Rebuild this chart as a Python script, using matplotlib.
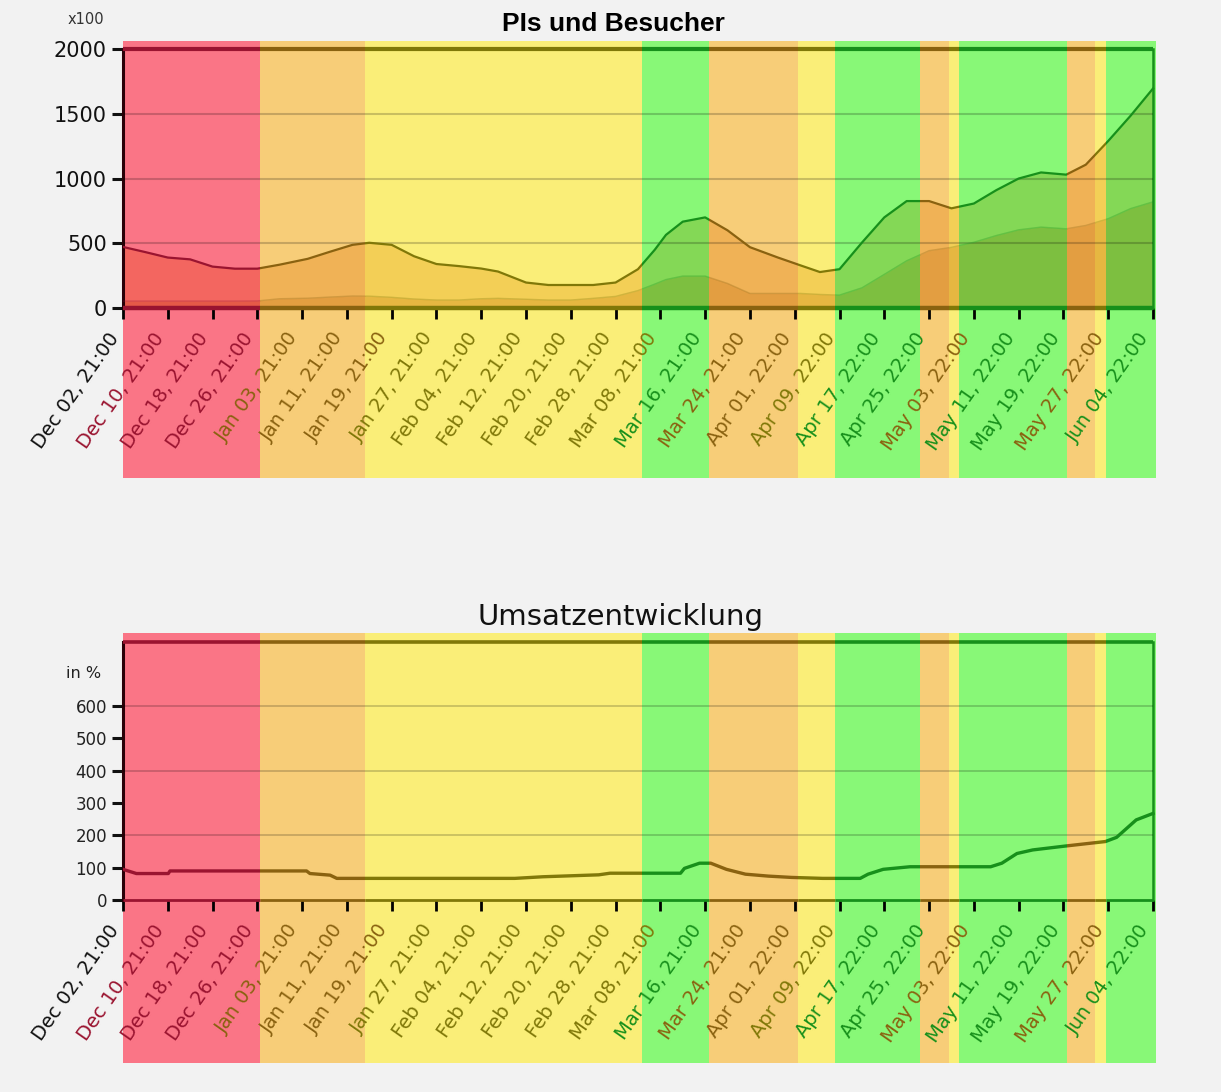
import matplotlib.pyplot as plt
import matplotlib.colors as mcolors
import numpy as np
from matplotlib.patches import Rectangle
from matplotlib.transforms import blended_transform_factory

plt.rcParams['font.family'] = ['DejaVu Sans']

# x axis: days since Dec 02, 21:00 -- one label every 8 days
tick_days = list(range(0, 185, 8))
tick_labels = ["Dec 02, 21:00", "Dec 10, 21:00", "Dec 18, 21:00", "Dec 26, 21:00",
               "Jan 03, 21:00", "Jan 11, 21:00", "Jan 19, 21:00", "Jan 27, 21:00",
               "Feb 04, 21:00", "Feb 12, 21:00", "Feb 20, 21:00", "Feb 28, 21:00",
               "Mar 08, 21:00", "Mar 16, 21:00", "Mar 24, 21:00", "Apr 01, 22:00",
               "Apr 09, 22:00", "Apr 17, 22:00", "Apr 25, 22:00", "May 03, 22:00",
               "May 11, 22:00", "May 19, 22:00", "May 27, 22:00", "Jun 04, 22:00"]

# rating phases along the time axis (day boundaries)
band_edges = [0, 24.5, 43.2, 92.7, 104.75, 120.5, 127.2, 142.4, 147.5, 149.4,
              168.6, 173.7, 175.6, 184.5]
band_kinds = ["red", "orange", "yellow", "green", "orange", "yellow", "green",
              "orange", "yellow", "green", "orange", "yellow", "green"]

# PIs und Besucher (x100)
days = [0, 4, 8, 12, 16, 20, 24, 28, 33, 37, 41, 44, 48, 52, 56, 60, 64, 67, 72,
        76, 80, 84, 88, 92, 95, 97, 100, 104, 108, 112, 117, 121, 124.5, 128, 132,
        136, 140, 144, 148, 152, 156, 160, 164, 168.5, 172, 176, 180, 184]
pis = [472, 432, 390, 376, 320, 304, 304, 335, 380, 435, 488, 504, 488, 400, 340,
       324, 305, 282, 197, 178, 178, 178, 197, 300, 450, 565, 667, 700, 600, 470,
       390, 330, 278, 300, 505, 700, 826, 826, 770, 807, 910, 1000, 1047, 1030,
       1107, 1290, 1485, 1695]
besucher = [54, 54, 54, 54, 54, 54, 55, 72, 76, 85, 93, 92, 83, 70, 62, 62, 72,
            75, 68, 62, 62, 75, 90, 135, 185, 220, 247, 247, 190, 113, 113, 113,
            105, 100, 156, 260, 365, 443, 469, 508, 560, 604, 625, 612, 638, 690,
            768, 820]

# Umsatzentwicklung in %
umsatz_days = [0, 2.4, 8.1, 8.4, 20, 32.8, 33.4, 37, 38.2, 45, 56, 65, 70, 75, 80,
               85, 87, 99.6, 100.3, 103, 105, 107.8, 111.2, 115.3, 119.4, 125,
               131.7, 133.1, 135.8, 140.6, 148, 155, 157, 159.7, 162.5, 168.3,
               175.5, 177.5, 181, 184]
umsatz = [95, 82, 82, 90, 90, 90, 82, 77, 67, 67, 67, 67, 67, 72, 75, 78, 83, 83,
          98, 114, 114, 95, 80, 74, 70, 67, 67, 80, 95, 103, 103, 103, 114, 144,
          155, 167, 181, 194, 248, 268]

# band colour, ink colour used for lines and text over the band
palette = {
    "red": ("#fa7586", "#9a1430"),
    "orange": ("#f7cd78", "#8a6210"),
    "yellow": ("#faee78", "#807808"),
    "green": ("#88f877", "#17901b"),
}
PI_TINT = np.array([0.97, 0.87, 0.72])
BES_TINT = np.array([0.92, 0.77, 0.54])
XMAX = 184


def tint(color, factor):
    return tuple(np.array(mcolors.to_rgb(color)) * factor)


def band_at(day):
    i = np.searchsorted(band_edges, day, side='right') - 1
    if i < 0 or i >= len(band_kinds):
        return None
    return band_kinds[i]


def setup(ax, ymax, below, above, top_lw, bottom_lw):
    ax.set_facecolor('none')
    ax.set_xlim(0, XMAX)
    ax.set_ylim(0, ymax)
    trans = blended_transform_factory(ax.transData, ax.transAxes)
    for x0, x1, kind in zip(band_edges[:-1], band_edges[1:], band_kinds):
        fill, ink = palette[kind]
        ax.add_patch(Rectangle((x0, -below), x1 - x0, 1 + below + above,
                               transform=trans, facecolor=fill, edgecolor='none',
                               clip_on=False, zorder=0))
        xe = min(x1, XMAX)
        ax.plot([x0, xe], [ymax, ymax], color=ink, lw=top_lw, clip_on=False,
                solid_capstyle='butt', zorder=5)
        ax.plot([x0, xe], [0, 0], color=ink, lw=bottom_lw, clip_on=False,
                solid_capstyle='butt', zorder=5)
    ax.set_xlim(0, XMAX)
    for s in ['top', 'bottom']:
        ax.spines[s].set_visible(False)
    ax.spines['left'].set_color('#2a0008')
    ax.spines['left'].set_linewidth(2.2)
    ax.spines['right'].set_color(palette['green'][1])
    ax.spines['right'].set_linewidth(1.8)

    ax.set_xticks(tick_days, tick_labels)
    ax.tick_params(axis='x', length=8, width=2, pad=7, labelsize=14)
    ax.tick_params(axis='y', length=8, width=2.2, color='#111111')
    for tick, d in zip(ax.xaxis.get_major_ticks(), tick_days):
        tick.tick1line.set_color(palette[band_at(min(d, XMAX - 0.1))][1])
        kind = band_at(d - 5)
        tick.label1.set_color(palette[kind][1] if kind else '#111111')
        tick.label1.set_rotation(55)
        tick.label1.set_horizontalalignment('right')
        tick.label1.set_verticalalignment('top')


def clipped(ax, artist, x0, x1, ymax):
    clip = Rectangle((x0, -ymax), x1 - x0, 3 * ymax, transform=ax.transData)
    artist.set_clip_path(clip)


fig = plt.figure(figsize=(12.21, 10.92), dpi=100, facecolor='#f2f2f2')

# ---- PIs und Besucher ----
ax1 = fig.add_axes([0.1007, 0.7179, 0.8436, 0.2372])
setup(ax1, 2000, 0.656, 0.031, 3.0, 3.2)
ax1.set_yticks([0, 500, 1000, 1500, 2000])
ax1.tick_params(axis='y', labelsize=15, labelcolor='#111111')
for y in [500, 1000, 1500]:
    ax1.axhline(y, color='black', alpha=0.2, lw=1.5, zorder=3)
for x0, x1, kind in zip(band_edges[:-1], band_edges[1:], band_kinds):
    fill, ink = palette[kind]
    a = ax1.fill_between(days, pis, color=tint(fill, PI_TINT), lw=0, zorder=1)
    clipped(ax1, a, x0, x1, 2000)
    b = ax1.fill_between(days, besucher, color=tint(fill, BES_TINT), lw=0, zorder=2)
    clipped(ax1, b, x0, x1, 2000)
    l2, = ax1.plot(days, besucher, color=ink, alpha=0.3, lw=1.0, zorder=3)
    clipped(ax1, l2, x0, x1, 2000)
    l1, = ax1.plot(days, pis, color=ink, lw=1.6, zorder=4)
    clipped(ax1, l1, x0, x1, 2000)

fig.text(613 / 1221, 1 - 24 / 1092, "PIs und Besucher", ha='center', va='center',
         fontsize=19, fontweight='bold', family=['Liberation Sans', 'DejaVu Sans'])
fig.text(86 / 1221, 1 - 20 / 1092, "x100", ha='center', va='center', fontsize=10.5,
         color='#333333')

# ---- Umsatzentwicklung ----
ax2 = fig.add_axes([0.1007, 0.1758, 0.8436, 0.2367])
setup(ax2, 800, 0.63, 0.033, 2.6, 2.0)
ax2.set_yticks(range(0, 700, 100))
ax2.tick_params(axis='y', labelsize=12, labelcolor='#222222')
for y in [200, 400, 600]:
    ax2.axhline(y, color='black', alpha=0.2, lw=1.3, zorder=3)
for x0, x1, kind in zip(band_edges[:-1], band_edges[1:], band_kinds):
    ln, = ax2.plot(umsatz_days, umsatz, color=palette[kind][1], lw=2.4, zorder=4)
    clipped(ax2, ln, x0, x1, 800)
ax2.text(-0.021, 700, "in %", ha='right', va='center', fontsize=11.5,
         color='#222222', transform=blended_transform_factory(ax2.transAxes, ax2.transData))

fig.text(620 / 1221, 1 - 617 / 1092, "Umsatzentwicklung", ha='center', va='center',
         fontsize=21, color='#111111')

fig.savefig("out.png", dpi=100, facecolor=fig.get_facecolor())
